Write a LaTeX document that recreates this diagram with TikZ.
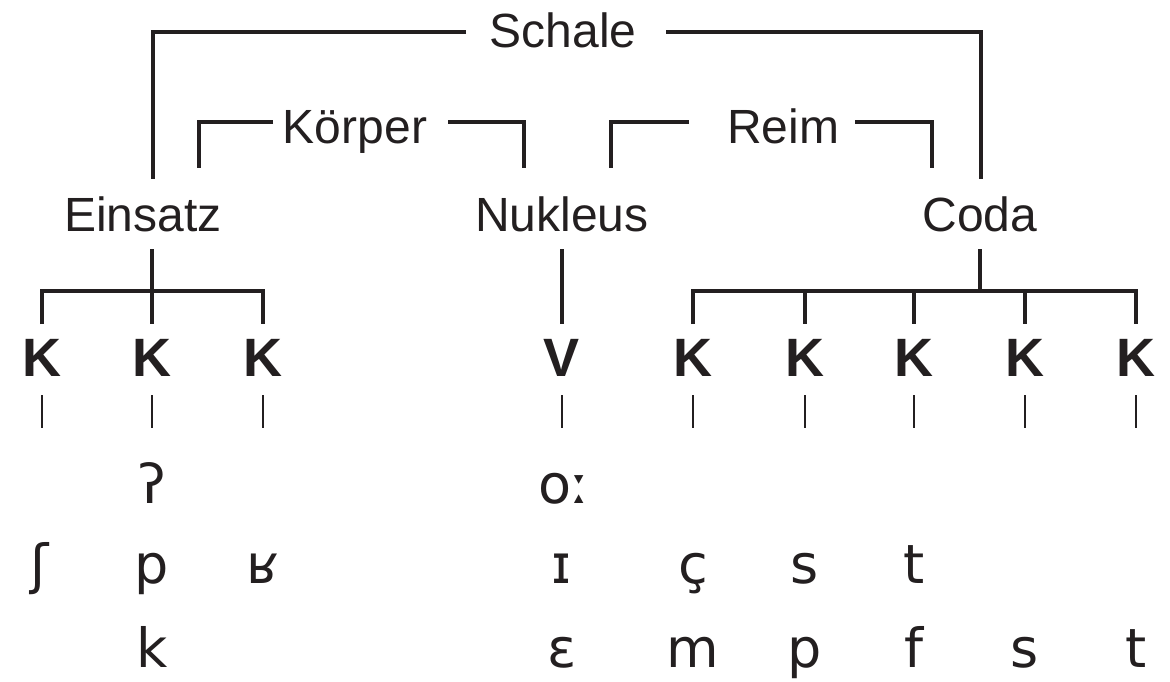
\documentclass[tikz,border=0pt]{standalone}
\usepackage{fontspec}
\newfontfamily\labfont{Liberation Sans}
\newfontfamily\ipafont{DejaVu Sans}
\definecolor{ink}{HTML}{231F20}
\begin{document}
\begin{tikzpicture}[x=1pt,y=-1pt,
  ln/.style={line width=3.1pt, draw=ink},
  tick/.style={line width=2.6pt, draw=ink},
  lab/.style={inner sep=0pt, anchor=base, text=ink, font=\labfont\fontsize{48}{56}\selectfont},
  cat/.style={inner sep=0pt, anchor=base, text=ink, font=\labfont\bfseries\fontsize{54}{60}\selectfont},
  ipa/.style={inner sep=0pt, anchor=base, text=ink, font=\ipafont\fontsize{54}{60}\selectfont}]
\useasboundingbox (0,0) rectangle (1170,681);

% upper labels
\node[lab] (schale) at (563,47) {Schale};
\node[lab] (koerper) at (355,143) {Körper};
\node[lab] (reim) at (783,143) {Reim};
\node[lab] (einsatz) at (143,231) {Einsatz};
\node[lab] (nukleus) at (562,231) {Nukleus};
\node[lab] (coda) at (980,231) {Coda};

% category row
\node[cat] (k1) at (42,376) {K};
\node[cat] (k2) at (152,376) {K};
\node[cat] (k3) at (263,376) {K};
\node[cat] (v)  at (562,376) {V};
\node[cat] (k4) at (693,376) {K};
\node[cat] (k5) at (805,376) {K};
\node[cat] (k6) at (914,376) {K};
\node[cat] (k7) at (1025,376) {K};
\node[cat] (k8) at (1136,376) {K};

% phonetic rows
\node[ipa] (a2) at (152,503) {ʔ};
\node[ipa] (av) at (564,503) {oː};
\node[ipa] (b1) at (40,583) {ʃ};
\node[ipa] (b2) at (152,583) {p};
\node[ipa] (b3) at (263,583) {ʁ};
\node[ipa] (bv) at (562,583) {ɪ};
\node[ipa] (b4) at (693,583) {ç};
\node[ipa] (b5) at (805,583) {s};
\node[ipa] (b6) at (914,583) {t};
\node[ipa] (c2) at (152,667) {k};
\node[ipa] (cv) at (562,667) {ɛ};
\node[ipa] (c4) at (693,667) {m};
\node[ipa] (c5) at (805,667) {p};
\node[ipa] (c6) at (914,667) {f};
\node[ipa] (c7) at (1025,667) {s};
\node[ipa] (c8) at (1136,667) {t};

% connector end points
\coordinate (sL) at (466,32);
\coordinate (sR) at (666,32);
\coordinate (sLe) at (153,179);
\coordinate (sRe) at (981,179);
\coordinate (kL) at (273,122);
\coordinate (kR) at (448,122);
\coordinate (kLe) at (199,168);
\coordinate (kRe) at (524,168);
\coordinate (rL) at (689,122);
\coordinate (rR) at (855,122);
\coordinate (rLe) at (611,168);
\coordinate (rRe) at (932,168);

\draw[ln] (sL) -| (sLe);
\draw[ln] (sR) -| (sRe);
\draw[ln] (kL) -| (kLe);
\draw[ln] (kR) -| (kRe);
\draw[ln] (rL) -| (rLe);
\draw[ln] (rR) -| (rRe);

% Einsatz branch
\coordinate (eTop) at (152,249);
\draw[ln] (eTop) -- (152,324);
\draw[ln] (42,324) -- (42,291) -- (263,291) -- (263,324);

% Nukleus branch
\coordinate (nTop) at (562,249);
\draw[ln] (nTop) -- (562,324);

% Coda branch
\coordinate (cTop) at (980,249);
\draw[ln] (cTop) -- (980,291);
\draw[ln] (693,324) -- (693,291) -- (1136,291) -- (1136,324);
\foreach \x in {805,914,1025} \draw[ln] (\x,291) -- (\x,324);

% ticks under categories
\foreach \x in {42,152,263,562,693,805,914,1025,1136}
  \draw[tick] (\x,395) -- (\x,428);
\end{tikzpicture}
\end{document}
